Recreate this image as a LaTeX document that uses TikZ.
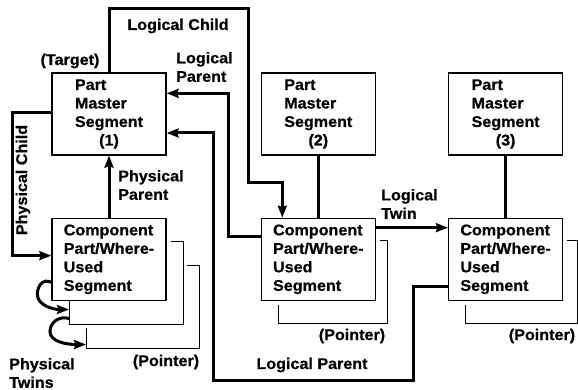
\documentclass[tikz,border=0pt]{standalone}
\usepackage{fontspec}
\usepackage{tikz}
\usetikzlibrary{
	arrows.meta,
	positioning,
	calc
}
\newfontfamily\diafont[FakeStretch=1.04, BoldFeatures={FakeBold=0.6}]{Liberation Sans}
\newcommand\segfont{\diafont\bfseries\fontsize{15.5}{18.5}\selectfont}
\newcommand\segno[1]{\ooalign{\hphantom{Segment}\cr\hfil(#1)\hfil\cr}}

\begin{document}
\begin{tikzpicture}[x=1pt, y=-1pt,
					segbox/.style={
					rectangle, draw, line width=1.3pt,
					minimum width=114pt, minimum height=82pt,
					inner sep=0pt, align=left, font=\segfont
				},
				page/.style={
					rectangle, minimum height=83pt,
					inner sep=0pt, outer sep=0pt
				},
				pageline/.style={line width=1pt},
				link/.style={line width=3pt},
				arrow/.style={link, -{Stealth[length=12pt,width=9pt,inset=1.5pt]}},
				note/.style={font=\segfont, inner sep=0pt, align=left},
				]
				\useasboundingbox (0,0) rectangle (578,390);
				
				%master segments
				\node[segbox] (m1) at (109,114) {Part\\Master\\Segment\\\segno{1}};
				\node[segbox, right=94pt of m1] (m2) {Part\\Master\\Segment\\\segno{2}};
				\node[segbox, right=72pt of m2] (m3) {Part\\Master\\Segment\\\segno{3}};
				
				%component segments
				\node[segbox, below=62pt of m1] (c1) {Component\\Part/Where-\\Used\\Segment};
				\node[segbox] (c2) at (m2 |- c1) {Component\\Part/Where-\\Used\\Segment};
				\node[segbox] (c3) at (m3 |- c1) {Component\\Part/Where-\\Used\\Segment};
				
				%pages behind
				\node[page, minimum width=114pt] (c1s) at (126,282.5) {};
				\node[page, minimum width=113pt] (c1t) at (142.5,306.5) {};
				\node[page, minimum width=109pt] (c2s) at (332.5,281.5) {};
				\node[page, minimum width=112pt] (c3s) at (521,282) {};
				\draw[pageline] ($(c1.east |- c1s.north)+(4,0)$) -- (c1s.north east) -- (c1s.south east) -- (c1s.south west) -- (c1s.west |- c1.south);
				\draw[pageline] ($(c1s.east |- c1t.north)+(4,0)$) -- (c1t.north east) -- (c1t.south east) -- (c1t.south west) -- ($(c1t.west |- c1s.south)+(0,4)$);
				\draw[pageline] ($(c2.east |- c2s.north)+(4,0)$) -- (c2s.north east) -- (c2s.south east) -- (c2s.south west) -- ($(c2s.west |- c2.south)+(0,4)$);
				\draw[pageline] ($(c3.east |- c3s.north)+(4,0)$) -- (c3s.north east) -- (c3s.south east) -- (c3s.south west) -- ($(c3s.west |- c3.south)+(0,4)$);
				
				%physical links
				\draw[arrow] (c1) -- (m1);
				\draw[arrow] ([yshift=-40pt]m1.north west) -- ++(-39,0) |- ([yshift=-38pt]c1.north west);
				\draw[arrow] ([yshift=-23pt]c1.west) .. controls +(-8,-4) and +(0,-9) .. ++(-14,12)
					.. controls +(0,11) and +(-16,0) .. ([yshift=-27pt]c1s.west);
				\draw[arrow] ([yshift=-36pt]c1s.west) .. controls +(-10,-3) and +(0,-9) .. ++(-19,13)
					.. controls +(0,10) and +(-20,0) .. ([yshift=-38pt]c1t.west);
				\draw[link] (m2) -- (c2);
				\draw[link] (m3) -- (c3);
				
				%logical links
				\draw[arrow] (m1.north) |- (248,9) -- (248,183) -| ([xshift=-36pt]c2.north);
				\draw[arrow] ([yshift=-19pt]c2.north west) -- ++(-32,0) |- ([yshift=-21pt]m1.north east);
				\draw[arrow] ([yshift=-69pt]c3.north west) -| (413,380) -- (213,380) |- ([yshift=-19pt]m1.east);
				\draw[arrow] ([yshift=-10pt]c2.north east) -- ([yshift=-10pt]c3.north west);
				
				%labels
				\node[note] (target) at (70,61) {(Target)};
				\node[note] (lchild) at (178,26) {Logical Child};
				\node[note, anchor=west] (lparent) at (176,67) {Logical\\Parent};
				\node[note, rotate=90] (pchild) at (23,180) {Physical Child};
				\node[note, anchor=west] (pparent) at (118,185) {Physical\\Parent};
				\node[note, anchor=west] (ltwin) at (381,204) {Logical\\Twin};
				\node[note] (lparent2) at (312,365) {Logical Parent};
				\node[note, anchor=west] (ptwins) at (9,373) {Physical\\Twins};
				\node[note] (ptr1) at (166,362) {(Pointer)};
				\node[note] (ptr2) at (352,336) {(Pointer)};
				\node[note] (ptr3) at (542,336) {(Pointer)};
			\end{tikzpicture}
\end{document}
